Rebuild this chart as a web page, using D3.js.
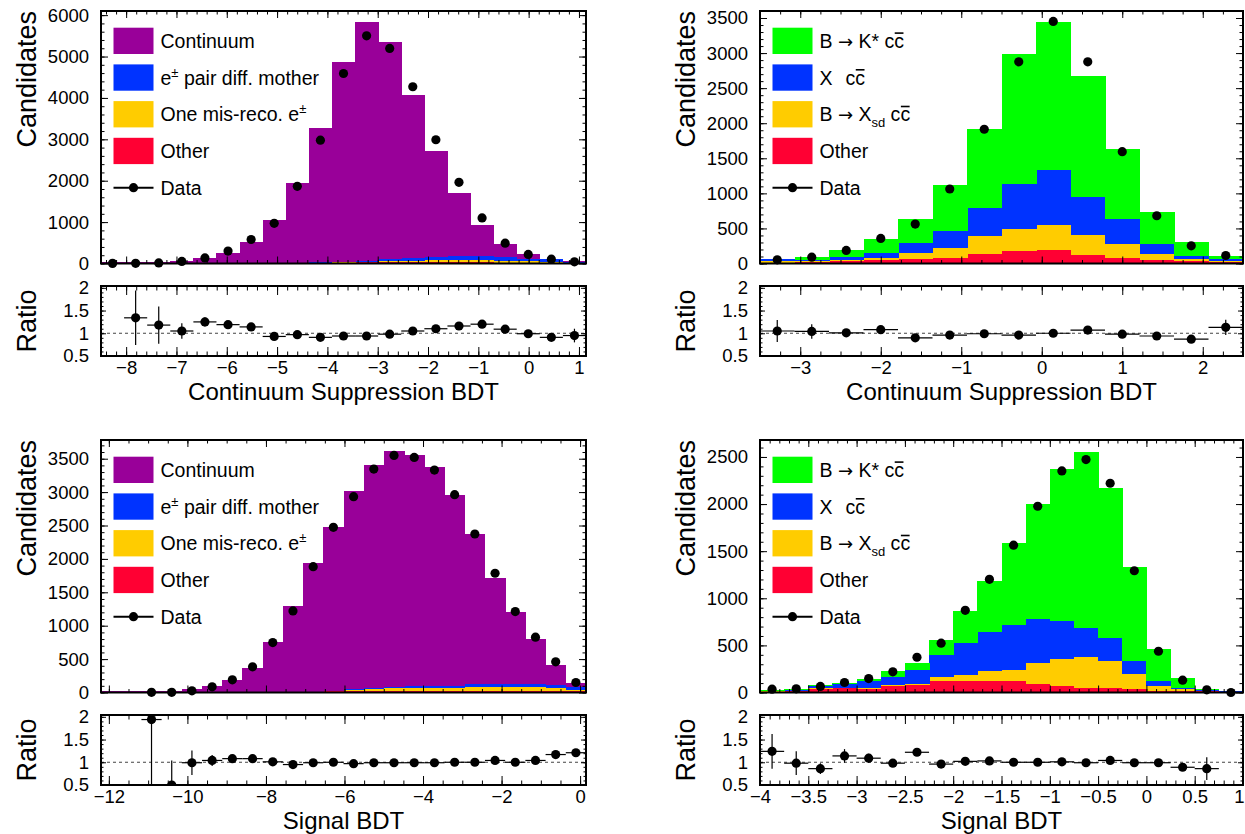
<!DOCTYPE html>
<html>
<head>
<meta charset="utf-8">
<script src="https://cdn.jsdelivr.net/npm/d3@7"></script>
<style>
body { margin: 0; background: #fff; }
svg { font-family: "Liberation Sans", Arial, Helvetica, sans-serif; }
</style>
</head>
<body>
<script>
//Top-left: continuum suppression BDT, e+e- channel
var tlContinuum = [5,5,5,40,120,250,515,1045,1930,3245,4840,5785,5245,3935,2570,1525,760,330,130,20,25];
var tlPair      = [0,0,0,0,0,0,0,0,0,5,10,10,50,60,70,95,90,75,60,55,20];
var tlMisreco   = [0,0,0,0,0,0,0,0,0,5,10,20,35,45,50,60,55,50,35,30,10];
var tlOther     = [20,20,20,15,15,15,15,15,15,15,20,25,25,25,25,25,25,20,15,15,10];
var tlData      = [3,5,15,50,135,300,580,970,1865,2980,4590,5500,5195,4270,2990,1960,1100,490,220,105,40];
var tlRatio     = [null,1.34,1.18,1.05,1.25,1.19,1.14,0.93,0.97,0.91,0.94,0.94,0.98,1.05,1.10,1.16,1.20,1.09,0.99,0.91,0.95];
var tlRatioErr  = [null,0.6,0.41,0.17,0.1,0.05,0.04,0.03,0.02,0.02,0.02,0.02,0.02,0.02,0.02,0.03,0.04,0.05,0.06,0.08,0.15];

//Top-right: continuum suppression BDT, charmonium channel
var trKstar    = [9,52,104,195,343,647,1129,1843,2115,1728,1005,452,190,48];
var trXcc      = [33,10,38,67,147,253,405,648,785,548,352,148,48,24];
var trXsd      = [15,14,15,38,72,133,252,309,358,281,200,76,33,14];
var trOther    = [14,19,33,43,71,81,138,181,190,119,81,57,29,24];
var trData     = [52,90,186,357,562,1062,1914,2876,3452,2876,1595,681,252,114];
var trRatio    = [1.05,1.04,1.01,1.08,0.90,0.96,0.99,0.96,1.00,1.07,0.98,0.94,0.87,1.13];
var trRatioErr = [0.24,0.16,0.07,0.05,0.04,0.03,0.02,0.02,0.02,0.02,0.03,0.04,0.06,0.17];

//Bottom-left: signal BDT, e+e- channel
var blContinuum = [5,5,5,10,40,90,180,359,753,1286,1924,2458,2966,3340,3544,3459,3280,2871,2248,1595,1086,683,299,65];
var blPair      = [0,0,0,0,0,0,0,0,0,0,0,0,5,10,15,20,20,20,50,50,50,50,50,40];
var blMisreco   = [0,0,0,0,0,0,0,0,0,0,0,10,20,35,35,45,45,45,50,50,50,50,35,20];
var blOther     = [10,10,10,10,10,10,10,10,10,10,10,15,20,20,25,25,25,25,25,25,25,25,25,15];
var blData      = [null,null,3,3,25,85,190,384,748,1221,1884,2473,2931,3345,3549,3519,3330,2961,2373,1785,1211,828,459,150];
var blRatio     = [null,null,1.94,0.5,0.99,1.04,1.08,1.08,1.01,0.95,0.99,1.0,0.97,0.99,0.99,0.99,0.99,1.0,1.0,1.04,1.0,1.04,1.17,1.21];
var blRatioErr  = [null,null,1.5,0.54,0.27,0.12,0.06,0.04,0.03,0.02,0.02,0.02,0.02,0.02,0.02,0.02,0.02,0.02,0.02,0.03,0.03,0.04,0.06,0.07];

//Bottom-right: signal BDT, charmonium channel
var brKstar    = [7,7,7,7,28,64,78,155,335,537,868,1219,1610,1872,1592,989,339,99,17,3];
var brXcc      = [10,14,29,41,68,89,148,237,346,413,477,466,402,307,241,138,53,14,7,4];
var brXsd      = [4,3,3,5,10,6,14,35,57,109,116,229,286,332,289,162,50,21,7,0];
var brOther    = [7,11,42,46,39,74,78,127,127,124,124,85,71,46,46,39,21,18,11,7];
var brData     = [35,39,64,106,148,219,374,523,872,1201,1564,1977,2352,2472,2221,1292,438,131,28,0];
var brRatio    = [1.24,0.98,0.86,1.14,1.09,0.98,1.22,0.96,1.02,1.03,1.0,1.0,1.01,0.99,1.04,0.99,0.99,0.89,0.86,null];
var brRatioErr = [0.38,0.26,0.12,0.15,0.1,0.05,0.06,0.04,0.03,0.03,0.02,0.02,0.02,0.02,0.02,0.02,0.04,0.06,0.25,null];

//Legend labels (segments so we can do super/subscripts and overlines)
var eeLabels = [
    [{t: "Continuum"}],
    [{t: "e"}, {t: "\u00b1", sup: true}, {t: " pair diff. mother"}],
    [{t: "One mis-reco. e"}, {t: "\u00b1", sup: true}],
    [{t: "Other"}]
];
var ccLabels = [
    [{t: "B "}, {t: "\u2192", sym: true}, {t: " K* c"}, {t: "c", over: true}],
    [{t: "X"}, {t: "c", dx: 13}, {t: "c", over: true}],
    [{t: "B "}, {t: "\u2192", sym: true}, {t: " X"}, {t: "sd", sub: true}, {t: " c"}, {t: "c", over: true}],
    [{t: "Other"}]
];

var colPurple = "#990099", colBlue = "#0033ff", colYellow = "#ffcc00",
    colRed = "#ff0033", colGreen = "#00ff00";

var w = 1245, h = 834;
var tickFont = 18.5, legendFont = 19.5;
var svg = d3.select("body").append("svg")
            .attr("width", w)
            .attr("height", h);

var ratioDomain = [0.5, 2.04];

function minorTicks(lo, hi, step) {
    var a = Math.ceil(lo / step - 1e-9), b = Math.floor(hi / step + 1e-9);
    return d3.range(a, b + 1).map(function(i) { return +(i * step).toFixed(6); });
}

function fmt(v) {
    return (v < 0 ? "\u2212" : "") + Math.abs(v);
}

function cleanAxis(sel) {
    sel.select(".domain").remove();
    sel.selectAll("line").attr("stroke", "#000");
    sel.selectAll("text").attr("font-size", tickFont).attr("fill", "#000").attr("font-family", null);
}

function drawPanel(p) {
    var g = svg.append("g");

    var x = d3.scaleLinear().domain(p.xDomain).range([p.left, p.right]);
    var y = d3.scaleLinear().domain([0, p.yMax]).range([p.bottom, p.top]);
    var yr = d3.scaleLinear().domain(ratioDomain).range([p.rBottom, p.rTop]);

    //Bin edges
    var n = p.series[0].values.length;
    var edges = d3.range(n + 1).map(function(i) {
        return p.xDomain[0] + i * (p.xDomain[1] - p.xDomain[0]) / n;
    });

    //Build a table for d3.stack
    var rows = d3.range(n).map(function(i) {
        var r = {lo: edges[i], hi: edges[i + 1]};
        p.series.forEach(function(s) { r[s.name] = s.values[i]; });
        return r;
    });
    var layers = d3.stack().keys(p.series.map(function(s) { return s.name; }))(rows);

    var clipId = "clip" + p.id;
    svg.append("clipPath").attr("id", clipId)
        .append("rect")
        .attr("x", p.left).attr("y", p.top)
        .attr("width", p.right - p.left).attr("height", p.bottom - p.top);
    var rclipId = "rclip" + p.id;
    svg.append("clipPath").attr("id", rclipId)
        .append("rect")
        .attr("x", p.left).attr("y", p.rTop)
        .attr("width", p.right - p.left).attr("height", p.rBottom - p.rTop);

    //Stacked histogram
    var hist = g.append("g").attr("clip-path", "url(#" + clipId + ")");
    layers.forEach(function(layer, k) {
        hist.append("g")
            .selectAll("rect")
            .data(layer)
            .enter()
            .append("rect")
            .attr("x", function(d) { return x(d.data.lo); })
            .attr("width", function(d) { return x(d.data.hi) - x(d.data.lo) + 0.5; })
            .attr("y", function(d) { return y(d[1]); })
            .attr("height", function(d) { return Math.max(0, y(d[0]) - y(d[1])); })
            .attr("fill", p.series[k].color)
            .attr("shape-rendering", "crispEdges");
    });

    //Data points
    g.append("g")
        .selectAll("circle")
        .data(p.data.map(function(v, i) { return {v: v, i: i}; }).filter(function(d) { return d.v !== null; }))
        .enter()
        .append("circle")
        .attr("cx", function(d) { return x((edges[d.i] + edges[d.i + 1]) / 2); })
        .attr("cy", function(d) { return y(d.v); })
        .attr("r", 4.6)
        .attr("fill", "#000");

    //Axes of main pad: ticks on all four sides, pointing inwards
    var yMaj = d3.range(0, p.yMax + 1, p.yStep);
    var yMin = minorTicks(0, p.yMax, p.yMinorStep);
    var xMaj = minorTicks(p.xDomain[0], p.xDomain[1], p.xStep);
    var xMin = minorTicks(p.xDomain[0], p.xDomain[1], p.xMinorStep);

    g.append("g").attr("transform", "translate(" + p.left + ",0)")
        .call(d3.axisLeft(y).tickValues(yMaj).tickSize(-7).tickPadding(12).tickFormat(d3.format("d")))
        .call(cleanAxis);
    g.append("g").attr("transform", "translate(" + p.left + ",0)")
        .call(d3.axisLeft(y).tickValues(yMin).tickSize(-3.5).tickFormat(""))
        .call(cleanAxis);
    g.append("g").attr("transform", "translate(" + p.right + ",0)")
        .call(d3.axisRight(y).tickValues(yMaj).tickSize(-7).tickFormat(""))
        .call(cleanAxis);
    g.append("g").attr("transform", "translate(" + p.right + ",0)")
        .call(d3.axisRight(y).tickValues(yMin).tickSize(-3.5).tickFormat(""))
        .call(cleanAxis);
    [[d3.axisBottom, p.bottom], [d3.axisTop, p.top]].forEach(function(a) {
        g.append("g").attr("transform", "translate(0," + a[1] + ")")
            .call(a[0](x).tickValues(xMaj).tickSize(-7).tickFormat(""))
            .call(cleanAxis);
        g.append("g").attr("transform", "translate(0," + a[1] + ")")
            .call(a[0](x).tickValues(xMin).tickSize(-3.5).tickFormat(""))
            .call(cleanAxis);
    });

    g.append("rect")
        .attr("x", p.left).attr("y", p.top)
        .attr("width", p.right - p.left).attr("height", p.bottom - p.top)
        .attr("fill", "none").attr("stroke", "#000").attr("stroke-width", 2);

    //Legend
    var lx = p.left + 12.5, ly = p.top + 16.7, step = 36.7;
    p.labels.forEach(function(lab, k) {
        var top = ly + k * step;
        g.append("rect")
            .attr("x", lx).attr("y", top)
            .attr("width", 40).attr("height", 26.3)
            .attr("fill", p.series[p.series.length - 1 - k].color);
        var baseY = top + 13.2 + 0.36 * legendFont;
        var t = g.append("text")
            .attr("x", lx + 47).attr("y", baseY)
            .attr("font-size", legendFont);
        var cur = 0, nChars = 0, overIdx = [];
        lab.forEach(function(s) {
            var off = s.sup ? -8 : (s.sub ? 6 : 0);
            var ts = t.append("tspan").text(s.t);
            if (off !== cur) ts.attr("dy", off - cur);
            cur = off;
            if (s.sup || s.sub) ts.attr("font-size", 13);
            if (s.dx) ts.attr("dx", s.dx);
            if (s.sym) ts.attr("font-family", "DejaVu Sans").attr("font-size", 18);
            if (s.over) overIdx.push(nChars);
            nChars += s.t.length;
        });
        //overline on the anti-quark
        overIdx.forEach(function(ci) {
            var ext = t.node().getExtentOfChar(ci);
            var oy = baseY - 0.76 * legendFont;
            g.append("line")
                .attr("x1", ext.x + 0.5).attr("x2", ext.x + ext.width - 0.5)
                .attr("y1", oy).attr("y2", oy)
                .attr("stroke", "#000").attr("stroke-width", 1.6);
        });
    });
    var dy = ly + p.labels.length * step + 13.2;
    g.append("line")
        .attr("x1", lx).attr("x2", lx + 40)
        .attr("y1", dy).attr("y2", dy)
        .attr("stroke", "#000").attr("stroke-width", 2);
    g.append("circle")
        .attr("cx", lx + 20).attr("cy", dy).attr("r", 4.6).attr("fill", "#000");
    g.append("text")
        .attr("x", lx + 47).attr("y", dy)
        .attr("dy", "0.36em")
        .attr("font-size", legendFont)
        .text("Data");

    //Y title
    g.append("text")
        .attr("transform", "translate(" + (p.left - 65) + "," + p.top + ") rotate(-90)")
        .attr("text-anchor", "end")
        .attr("font-size", 27)
        .text("Candidates");

    //Ratio pad
    var r = g.append("g");
    r.append("line")
        .attr("x1", p.left).attr("x2", p.right)
        .attr("y1", yr(1)).attr("y2", yr(1))
        .attr("stroke", "#444").attr("stroke-width", 1.2)
        .attr("stroke-dasharray", "3,3");

    var rpts = p.ratio.map(function(v, i) { return {v: v, e: p.ratioErr[i], i: i}; })
        .filter(function(d) { return d.v !== null; });
    var rg = r.append("g").attr("clip-path", "url(#" + rclipId + ")");
    rg.selectAll("line.xe")
        .data(rpts)
        .enter()
        .append("line")
        .attr("class", "xe")
        .attr("x1", function(d) { return x(edges[d.i]); })
        .attr("x2", function(d) { return x(edges[d.i + 1]); })
        .attr("y1", function(d) { return yr(d.v); })
        .attr("y2", function(d) { return yr(d.v); })
        .attr("stroke", "#000").attr("stroke-width", 1.2);
    rg.selectAll("line.ye")
        .data(rpts)
        .enter()
        .append("line")
        .attr("class", "ye")
        .attr("x1", function(d) { return x((edges[d.i] + edges[d.i + 1]) / 2); })
        .attr("x2", function(d) { return x((edges[d.i] + edges[d.i + 1]) / 2); })
        .attr("y1", function(d) { return yr(d.v - d.e); })
        .attr("y2", function(d) { return yr(d.v + d.e); })
        .attr("stroke", "#000").attr("stroke-width", 1.2);
    rg.selectAll("circle")
        .data(rpts)
        .enter()
        .append("circle")
        .attr("cx", function(d) { return x((edges[d.i] + edges[d.i + 1]) / 2); })
        .attr("cy", function(d) { return yr(d.v); })
        .attr("r", 4.6)
        .attr("fill", "#000");

    var rMaj = [0.5, 1, 1.5, 2];
    var rMin = minorTicks(ratioDomain[0], ratioDomain[1], 0.1);
    r.append("g").attr("transform", "translate(" + p.left + ",0)")
        .call(d3.axisLeft(yr).tickValues(rMaj).tickSize(-5).tickPadding(12).tickFormat(function(d) { return d; }))
        .call(cleanAxis);
    r.append("g").attr("transform", "translate(" + p.left + ",0)")
        .call(d3.axisLeft(yr).tickValues(rMin).tickSize(-2.5).tickFormat(""))
        .call(cleanAxis);
    r.append("g").attr("transform", "translate(" + p.right + ",0)")
        .call(d3.axisRight(yr).tickValues(rMaj).tickSize(-5).tickFormat(""))
        .call(cleanAxis);
    r.append("g").attr("transform", "translate(" + p.right + ",0)")
        .call(d3.axisRight(yr).tickValues(rMin).tickSize(-2.5).tickFormat(""))
        .call(cleanAxis);
    var xl = r.append("g").attr("transform", "translate(0," + p.rBottom + ")")
        .call(d3.axisBottom(x).tickValues(xMaj).tickSize(-9).tickPadding(5).tickFormat(fmt))
        .call(cleanAxis);
    //keep a label that sits on the right edge of the picture inside it
    xl.selectAll("text").filter(function(d) { return x(d) > w - 8; })
        .attr("text-anchor", "end").attr("dx", w - 1 - p.right);
    r.append("g").attr("transform", "translate(0," + p.rBottom + ")")
        .call(d3.axisBottom(x).tickValues(xMin).tickSize(-4.5).tickFormat(""))
        .call(cleanAxis);
    r.append("g").attr("transform", "translate(0," + p.rTop + ")")
        .call(d3.axisTop(x).tickValues(xMaj).tickSize(-9).tickFormat(""))
        .call(cleanAxis);
    r.append("g").attr("transform", "translate(0," + p.rTop + ")")
        .call(d3.axisTop(x).tickValues(xMin).tickSize(-4.5).tickFormat(""))
        .call(cleanAxis);

    r.append("rect")
        .attr("x", p.left).attr("y", p.rTop)
        .attr("width", p.right - p.left).attr("height", p.rBottom - p.rTop)
        .attr("fill", "none").attr("stroke", "#000").attr("stroke-width", 2);

    r.append("text")
        .attr("transform", "translate(" + (p.left - 65) + "," + ((p.rTop + p.rBottom) / 2) + ") rotate(-90)")
        .attr("text-anchor", "middle")
        .attr("font-size", 27)
        .text("Ratio");

    r.append("text")
        .attr("x", (p.left + p.right) / 2)
        .attr("y", p.rBottom + 44)
        .attr("text-anchor", "middle")
        .attr("font-size", 24)
        .text(p.xTitle);
}

drawPanel({
    id: "tl", left: 101, right: 586, top: 11, bottom: 263.5, rTop: 286, rBottom: 356,
    xDomain: [-8.5, 1.14], xStep: 1, xMinorStep: 0.2,
    yMax: 6100, yStep: 1000, yMinorStep: 200,
    series: [
        {name: "other", values: tlOther, color: colRed},
        {name: "misreco", values: tlMisreco, color: colYellow},
        {name: "pair", values: tlPair, color: colBlue},
        {name: "continuum", values: tlContinuum, color: colPurple}
    ],
    labels: eeLabels,
    data: tlData, ratio: tlRatio, ratioErr: tlRatioErr,
    xTitle: "Continuum Suppression BDT"
});

drawPanel({
    id: "tr", left: 760, right: 1243, top: 11, bottom: 263.5, rTop: 286, rBottom: 356,
    xDomain: [-3.5, 2.5], xStep: 1, xMinorStep: 0.25,
    yMax: 3600, yStep: 500, yMinorStep: 100,
    series: [
        {name: "other", values: trOther, color: colRed},
        {name: "xsd", values: trXsd, color: colYellow},
        {name: "xcc", values: trXcc, color: colBlue},
        {name: "kstar", values: trKstar, color: colGreen}
    ],
    labels: ccLabels,
    data: trData, ratio: trRatio, ratioErr: trRatioErr,
    xTitle: "Continuum Suppression BDT"
});

drawPanel({
    id: "bl", left: 101, right: 586, top: 440, bottom: 692.5, rTop: 715, rBottom: 785,
    xDomain: [-12.2, 0.15], xStep: 2, xMinorStep: 0.5,
    yMax: 3780, yStep: 500, yMinorStep: 100,
    series: [
        {name: "other", values: blOther, color: colRed},
        {name: "misreco", values: blMisreco, color: colYellow},
        {name: "pair", values: blPair, color: colBlue},
        {name: "continuum", values: blContinuum, color: colPurple}
    ],
    labels: eeLabels,
    data: blData, ratio: blRatio, ratioErr: blRatioErr,
    xTitle: "Signal BDT"
});

drawPanel({
    id: "br", left: 760, right: 1243, top: 440, bottom: 692.5, rTop: 715, rBottom: 785,
    xDomain: [-4, 1], xStep: 0.5, xMinorStep: 0.1,
    yMax: 2680, yStep: 500, yMinorStep: 100,
    series: [
        {name: "other", values: brOther, color: colRed},
        {name: "xsd", values: brXsd, color: colYellow},
        {name: "xcc", values: brXcc, color: colBlue},
        {name: "kstar", values: brKstar, color: colGreen}
    ],
    labels: ccLabels,
    data: brData, ratio: brRatio, ratioErr: brRatioErr,
    xTitle: "Signal BDT"
});
</script>
</body>
</html>
